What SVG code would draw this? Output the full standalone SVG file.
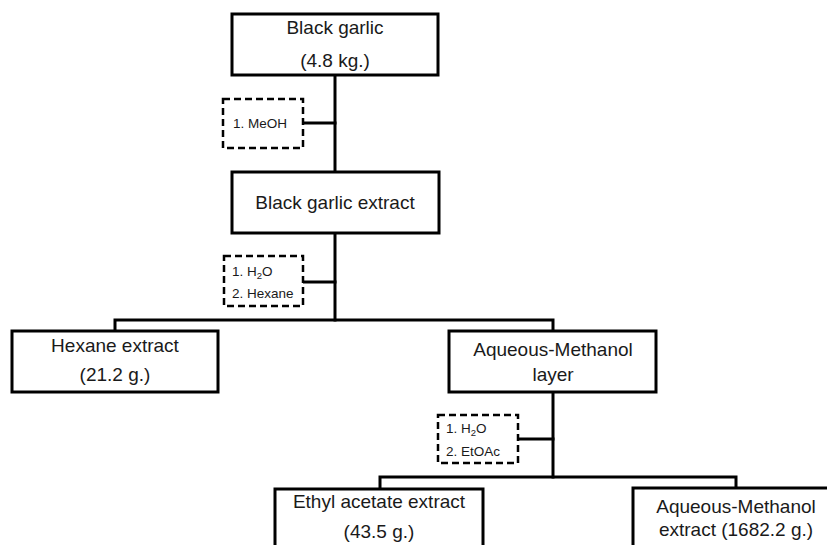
<svg xmlns="http://www.w3.org/2000/svg" width="827" height="545" viewBox="0 0 827 545">
  <style>
    .box { fill: #ffffff; stroke: #000000; stroke-width: 3; }
    .dash { fill: #ffffff; stroke: #000000; stroke-width: 2.5; stroke-dasharray: 7 4; }
    .line { fill: none; stroke: #000000; stroke-width: 3; stroke-linecap: square; }
    .t { font-family: "Liberation Sans", Arial, sans-serif; font-size: 19px; fill: #1a1a1a; text-anchor: middle; }
    .s { font-family: "Liberation Sans", Arial, sans-serif; font-size: 13.5px; fill: #1a1a1a; }
    .sub { font-size: 9.5px; }
  </style>
  <rect width="827" height="545" fill="#ffffff"/>

  <!-- connectors -->
  <g id="connectors">
    <path class="line" d="M335 75 V172"/>
    <path class="line" d="M303 123 H335"/>
    <path class="line" d="M335 233 V320"/>
    <path class="line" d="M303 282 H335"/>
    <path class="line" d="M115 331 V320 H553 V331"/>
    <path class="line" d="M553 392 V477"/>
    <path class="line" d="M518 439 H553"/>
    <path class="line" d="M380 489 V477 H736 V488"/>
  </g>

  <g id="black-garlic">
    <rect class="box" x="232" y="14" width="206" height="61"/>
    <text class="t" x="335" y="34">Black garlic</text>
    <text class="t" x="335" y="67">(4.8 kg.)</text>
  </g>

  <g id="step-meoh">
    <rect class="dash" x="223" y="99" width="80" height="49"/>
    <text class="s" x="233" y="128">1. MeOH</text>
  </g>

  <g id="black-garlic-extract">
    <rect class="box" x="232" y="172" width="207" height="61"/>
    <text class="t" x="335" y="209">Black garlic extract</text>
  </g>

  <g id="step-hexane">
    <rect class="dash" x="224" y="256" width="79" height="50"/>
    <text class="s" x="232" y="276">1. H<tspan class="sub" dy="3">2</tspan><tspan dy="-3">O</tspan></text>
    <text class="s" x="232" y="298">2. Hexane</text>
  </g>

  <g id="hexane-extract">
    <rect class="box" x="12" y="331" width="206" height="61"/>
    <text class="t" x="115" y="352">Hexane extract</text>
    <text class="t" x="115" y="381">(21.2 g.)</text>
  </g>

  <g id="aqueous-methanol-layer">
    <rect class="box" x="449" y="331" width="207" height="61"/>
    <text class="t" x="553" y="356">Aqueous-Methanol</text>
    <text class="t" x="553" y="381">layer</text>
  </g>

  <g id="step-etoac">
    <rect class="dash" x="438" y="415" width="80" height="48"/>
    <text class="s" x="446" y="433">1. H<tspan class="sub" dy="3">2</tspan><tspan dy="-3">O</tspan></text>
    <text class="s" x="446" y="456">2. EtOAc</text>
  </g>

  <g id="ethyl-acetate-extract">
    <rect class="box" x="275" y="489" width="208" height="70"/>
    <text class="t" x="379" y="508">Ethyl acetate extract</text>
    <text class="t" x="379" y="538">(43.5 g.)</text>
  </g>

  <g id="aqueous-methanol-extract">
    <rect class="box" x="633" y="488" width="210" height="70"/>
    <text class="t" x="736" y="513">Aqueous-Methanol</text>
    <text class="t" x="736" y="536">extract (1682.2 g.)</text>
  </g>
</svg>
